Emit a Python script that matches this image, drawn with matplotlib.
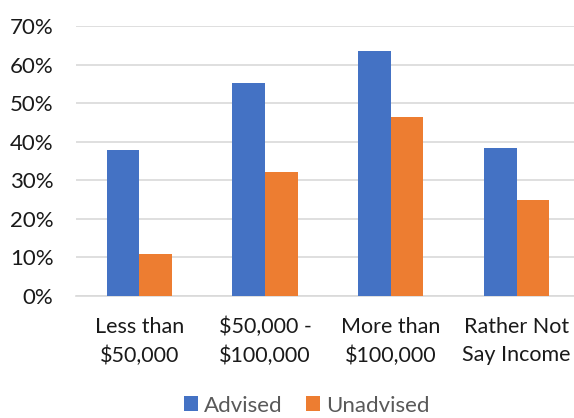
import numpy as np
import matplotlib.pyplot as plt
from matplotlib.ticker import PercentFormatter

categories = ["Less than\n$50,000", "$50,000 -\n$100,000", "More than\n$100,000", "Rather Not\nSay Income"]
advised = [0.378, 0.553, 0.634, 0.383]
unadvised = [0.108, 0.320, 0.464, 0.248]

plt.rcParams['font.family'] = ['Lato', 'DejaVu Sans']

fig = plt.figure(figsize=(5.74, 4.18), dpi=100)
ax = fig.add_axes([76.4 / 574, 122.3 / 418, 503 / 574, 269.7 / 418])

x = np.arange(len(categories))
w = 0.26
ax.bar(x - w / 2, advised, w, color="#4472C4", label="Advised", zorder=3)
ax.bar(x + w / 2, unadvised, w, color="#ED7D31", label="Unadvised", zorder=3)

ax.set_xlim(-0.5, len(categories) - 0.5)
ax.set_ylim(0, 0.7)
ax.set_yticks(np.arange(0, 0.71, 0.1))
ax.yaxis.set_major_formatter(PercentFormatter(1.0, decimals=0))
ax.grid(axis="y", color="#D9D9D9", linewidth=1.2, zorder=0)

ax.set_xticks(x)
ax.set_xticklabels(categories, fontsize=15.5, color="#1a1a1a", linespacing=1.55)
ax.tick_params(axis="y", labelsize=16, labelcolor="#1a1a1a", length=0, pad=16.5)
ax.tick_params(axis="x", length=0, pad=15)
for s in ["top", "right", "left"]:
    ax.spines[s].set_visible(False)
ax.spines["bottom"].set_color("#D9D9D9")
ax.spines["bottom"].set_linewidth(1.2)

leg = fig.legend(loc="center", bbox_to_anchor=(306.5 / 574, 12.5 / 418), ncol=2, frameon=False,
                 fontsize=16, handlelength=0.63, handleheight=0.63, handletextpad=0.27,
                 columnspacing=1.05, borderpad=0)
for t in leg.get_texts():
    t.set_color("#595959")

plt.savefig("out.png", dpi=100)
